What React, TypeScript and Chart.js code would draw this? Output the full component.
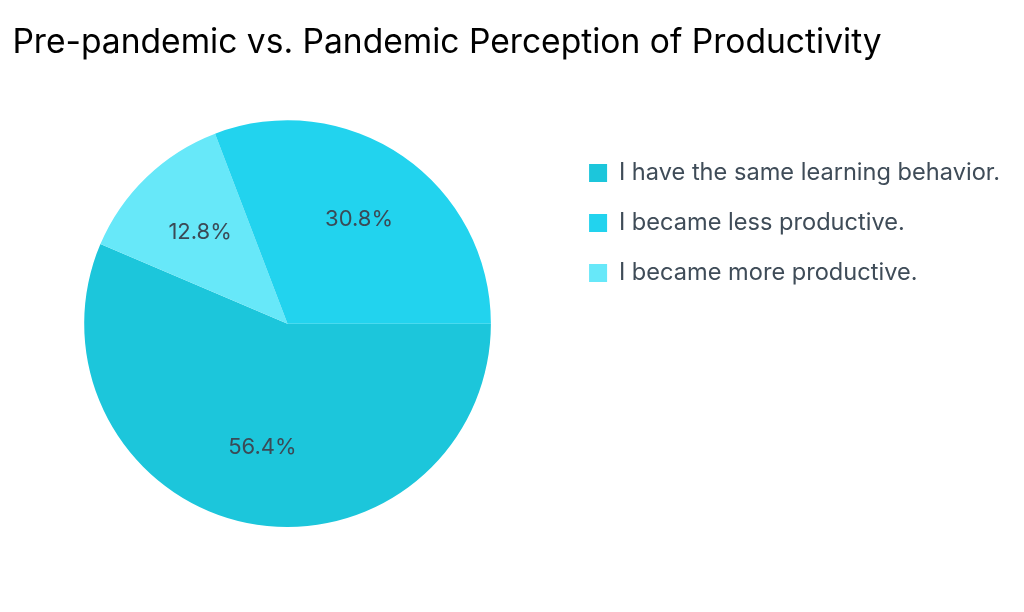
import React, { useEffect, useRef } from "react";
import { Chart, registerables } from "chart.js";

Chart.register(...registerables);

const TITLE = "Pre-pandemic vs. Pandemic Perception of Productivity";
// legend order
const categories = [
  "I have the same learning behavior.",
  "I became less productive.",
  "I became more productive.",
];
const shares = [56.4, 30.8, 12.8];
const colors = ["#1cc6db", "#22d3ee", "#67e8f9"];
// clockwise order of the slices, starting at 3 o'clock
const sliceOrder = [0, 2, 1];

const FONT = "Inter, 'Noto Sans', sans-serif";

const pieLabels = {
  id: "pieLabels",
  afterDatasetsDraw(chart: any) {
    const meta = chart.getDatasetMeta(0);
    const ctx = chart.ctx;
    ctx.save();
    ctx.font = `22px ${FONT}`;
    ctx.fillStyle = "#3b4a56";
    ctx.textAlign = "center";
    ctx.textBaseline = "middle";
    meta.data.forEach((arc: any, i: number) => {
      const { x, y, startAngle, endAngle, outerRadius } = arc.getProps(
        ["x", "y", "startAngle", "endAngle", "outerRadius"],
        true
      );
      const mid = (startAngle + endAngle) / 2;
      const r = outerRadius * 0.62;
      const v = chart.data.datasets[0].data[i];
      ctx.fillText(`${v.toFixed(1)}%`, x + Math.cos(mid) * r, y + Math.sin(mid) * r);
    });
    ctx.restore();
  },
};

export default function App() {
  const ref = useRef<HTMLCanvasElement | null>(null);
  useEffect(() => {
    if (!ref.current) return;
    const labels = sliceOrder.map((i) => categories[i]);
    const chart = new Chart(ref.current, {
      type: "pie",
      data: {
        labels,
        datasets: [
          {
            data: sliceOrder.map((i) => shares[i]),
            backgroundColor: sliceOrder.map((i) => colors[i]),
            borderWidth: 0,
          },
        ],
      },
      options: {
        animation: false,
        responsive: false,
        rotation: 90,
        layout: { padding: { left: 12.4, right: 14, top: 0, bottom: 85 } },
        plugins: {
          tooltip: { enabled: false },
          title: {
            display: true,
            text: TITLE,
            align: "start",
            color: "#000000",
            font: { family: FONT, size: 33.6, weight: "normal", lineHeight: 1.2 },
            padding: { top: 23, bottom: 57 },
          },
          legend: {
            display: true,
            position: "right",
            align: "start",
            fullSize: false,
            title: {
              display: true,
              text: " ",
              font: { size: 1, lineHeight: 1 },
              padding: { top: 13.5, bottom: 0 },
            },
            labels: {
              boxWidth: 18,
              boxHeight: 18,
              padding: 26.4,
              color: "#3f4c58",
              font: { family: FONT, size: 23.6 },
              sort: (a: any, b: any) =>
                categories.indexOf(a.text) - categories.indexOf(b.text),
            },
          },
        },
      },
      plugins: [pieLabels],
    });
    return () => chart.destroy();
  }, []);
  return (
    <div style={{ position: "absolute", left: 0, top: 0, width: 1024, height: 612 }}>
      <canvas ref={ref} width={1024} height={612} style={{ display: "block" }} />
    </div>
  );
}
